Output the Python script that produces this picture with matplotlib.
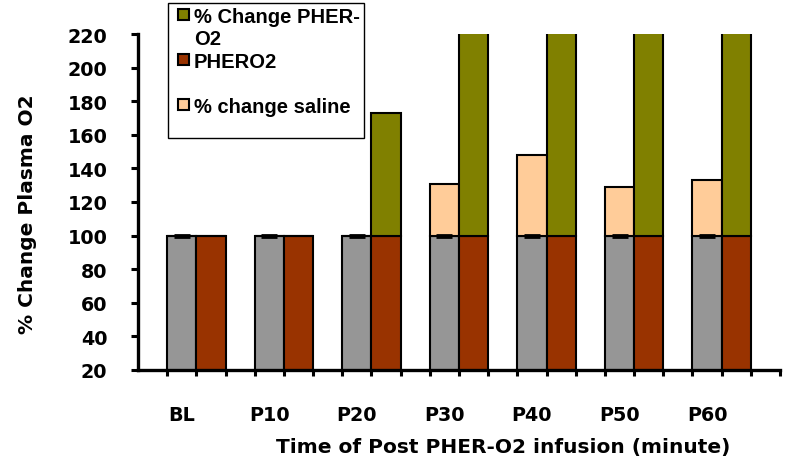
import numpy as np
import matplotlib
matplotlib.use("Agg")
import matplotlib.pyplot as plt
from matplotlib.patches import Patch, Rectangle
from matplotlib.legend_handler import HandlerPatch

plt.rcParams["font.family"] = ["Liberation Sans", "DejaVu Sans"]
plt.rcParams["font.weight"] = "bold"

# --- data ---
categories = ["BL", "P10", "P20", "P30", "P40", "P50", "P60"]
saline_base = [100, 100, 100, 100, 100, 100, 100]
saline_change = [100, 100, 100, 131, 148, 129, 133]
saline_err = [0.6, 0.6, 0.6, 0.6, 0.6, 0.6, 0.6]
phero2_base = [100, 100, 100, 100, 100, 100, 100]
phero2_change = [100, 100, 173, 260, 285, 300, 290]  # P30+ run off the top of the axis

GRAY = "#969696"
PEACH = "#FFCC99"
BROWN = "#993300"
OLIVE = "#808000"

# axis text in the original is wide, DejaVu bold matches its metrics best
TICKFONT = {"family": "DejaVu Sans", "size": 13.8, "weight": "bold"}
LABFONT = {"family": "DejaVu Sans", "size": 14.5, "weight": "bold"}

n = len(categories)
gray_x = 3 * np.arange(n) + 1.5
brown_x = gray_x + 1.0
w = 1.0

fig = plt.figure(figsize=(7.9, 4.6), dpi=100)
ax = fig.add_axes([138 / 790, 1 - 371 / 460, 642 / 790, 336 / 460])

base_s = np.array(saline_base)
base_p = np.array(phero2_base)
ax.bar(gray_x, base_s, width=w, color=GRAY, edgecolor="black", linewidth=1.5, zorder=2)
ax.bar(gray_x, np.array(saline_change) - base_s, bottom=base_s, width=w,
       color=PEACH, edgecolor="black", linewidth=1.5, zorder=2)
ax.bar(brown_x, base_p, width=w, color=BROWN, edgecolor="black", linewidth=1.5, zorder=2)
ax.bar(brown_x, np.array(phero2_change) - base_p, bottom=base_p, width=w,
       color=OLIVE, edgecolor="black", linewidth=1.5, zorder=2)
ax.errorbar(gray_x, base_s, yerr=saline_err, fmt="none", ecolor="black",
            elinewidth=1, capsize=6, capthick=2, zorder=3)

ax.set_xlim(0, 22)
ax.set_ylim(20, 220)
ax.set_yticks(np.arange(20, 221, 20))
ax.set_xticks(gray_x)
ax.set_xticklabels(categories)
ax.set_xticks(np.arange(1, 23), minor=True)

for s in ("top", "right"):
    ax.spines[s].set_visible(False)
for s in ("left", "bottom"):
    ax.spines[s].set_linewidth(2.4)

ax.tick_params(axis="y", length=5, width=2.2, pad=17)
ax.tick_params(axis="x", which="major", length=0, pad=25)
ax.tick_params(axis="x", which="minor", length=4, width=2.2)
for lab in ax.get_xticklabels() + ax.get_yticklabels():
    lab.set_fontproperties(TICKFONT)

ax.set_ylabel("% Change Plasma O2", fontdict=LABFONT)
ax.yaxis.set_label_coords(-0.157, 0.467)
ax.set_xlabel("Time of Post PHER-O2 infusion (minute)", fontdict=LABFONT)
ax.xaxis.set_label_coords(0.569, -0.199)


def small_square(legend, orig_handle, xdescent, ydescent, width, height, fontsize):
    s = 8.0
    return Rectangle((-xdescent + 4.5, -ydescent + (height - s) / 2), s, s)


handles = [
    Patch(facecolor=OLIVE, edgecolor="black", linewidth=1.5, label="% Change PHER-"),
    Patch(facecolor="none", edgecolor="none", label="O2"),
    Patch(facecolor=BROWN, edgecolor="black", linewidth=1.5, label="PHERO2"),
    Patch(facecolor="none", edgecolor="none", label=" "),
    Patch(facecolor=PEACH, edgecolor="black", linewidth=1.5, label="% change saline"),
    Patch(facecolor="none", edgecolor="none", label=" "),
]
leg = fig.legend(handles=handles, loc="upper left", bbox_to_anchor=(168 / 790, 1 - 4 / 460),
                 frameon=True, fancybox=False, edgecolor="black", framealpha=1,
                 prop={"size": 14.5, "weight": "bold"}, handlelength=1.0, handleheight=0.55,
                 handletextpad=0.08, labelspacing=0.17, borderpad=0.2, borderaxespad=0,
                 handler_map={Patch: HandlerPatch(patch_func=small_square)})
leg.get_frame().set_linewidth(1.0)
leg.get_texts()[-1].set_fontsize(5)

fig.savefig("out.png", dpi=100)
